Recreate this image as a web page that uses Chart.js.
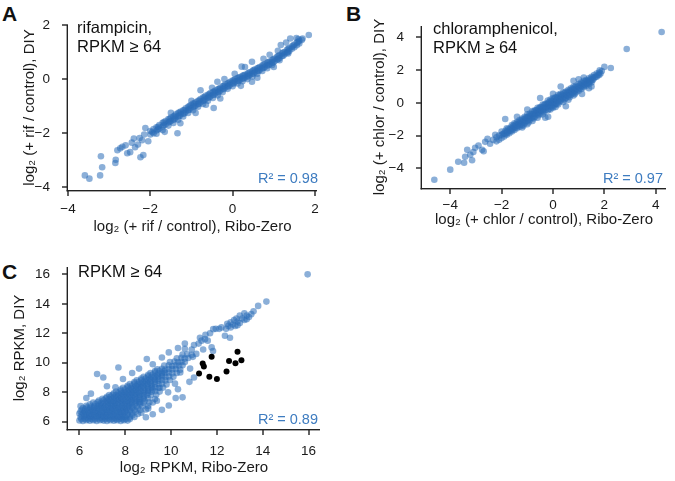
<!DOCTYPE html>
<html>
<head>
<meta charset="utf-8">
<script src="https://cdn.jsdelivr.net/npm/chart.js@4.4.0/dist/chart.umd.min.js"></script>
<style>
  body { margin: 0; background: #fff; width: 675px; height: 481px; position: relative; overflow: hidden;
         font-family: "Liberation Sans", Arial, Helvetica, sans-serif; }
  canvas { position: absolute; }
  .letter { position: absolute; font-weight: bold; font-size: 21px; color: #111; line-height: 1; }
</style>
</head>
<body>
<div class="letter" style="left:2px;top:3px">A</div>
<div class="letter" style="left:346px;top:3px">B</div>
<div class="letter" style="left:2px;top:261px">C</div>
<canvas id="chartA" width="340" height="240" style="left:0;top:0"></canvas>
<canvas id="chartB" width="335" height="240" style="left:340px;top:0"></canvas>
<canvas id="chartC" width="340" height="241" style="left:0;top:240px"></canvas>
<script>
// tick labels
const rifTicks = [-4, -2, 0, 2];
const chlorTicks = [-4, -2, 0, 2, 4];
const rpkmTicks = [6, 8, 10, 12, 14, 16];

// panel A: log2(+rif/control), [Ribo-Zero, DIY]
const rifPoints = [
  [-3.59,-3.56],[-3.48,-3.68],[-3.22,-3.56],[-3.17,-3.26],[-3.2,-2.85],[-2.85,-3.1],[-2.84,-2.98],[-2.73,-2.56],
  [-2.68,-2.5],[-2.56,-2.74],[-2.49,-2.7],[-2.37,-2.52],[-2.24,-2.89],[-2.2,-2.26],[-2.26,-2.18],[-2.12,-1.81],
  [-1.34,-2.0],[-1.27,-1.63],[-0.78,-0.41],[-2.17,-2.81],[-2.8,-2.63],[-2.6,-2.45],[-2.45,-2.35],[-2.3,-2.42],
  [-2.05,-2.3],[-2.4,-2.2],[-2.15,-2.05],
  [-2.0,-2.05],[-2.0,-1.92],[-1.92,-2.0],[-1.92,-1.85],[-1.85,-1.9],[-1.85,-1.78],[-1.85,-2.02],[-1.78,-1.83],
  [-1.78,-1.7],[-1.7,-1.75],[-1.7,-1.62],[-1.7,-1.88],[-1.63,-1.68],[-1.63,-1.55],[-1.56,-1.6],[-1.56,-1.48],
  [-1.56,-1.72],[-1.5,-1.55],[-1.5,-1.42],[-1.44,-1.5],[-1.44,-1.38],[-1.44,-1.62],[-1.38,-1.42],[-1.38,-1.3],
  [-1.32,-1.38],[-1.32,-1.25],[-1.32,-1.5],[-1.26,-1.3],[-1.26,-1.2],[-1.2,-1.28],[-1.2,-1.15],[-1.2,-1.38],
  [-1.14,-1.2],[-1.14,-1.08],[-1.08,-1.15],[-1.08,-1.02],[-1.08,-1.25],[-1.02,-1.08],[-1.02,-0.96],[-0.96,-1.02],
  [-0.96,-0.9],[-0.96,-1.15],[-0.9,-0.98],[-0.9,-0.86],[-0.84,-0.92],[-0.84,-0.8],[-0.84,-1.02],[-0.78,-0.86],
  [-0.78,-0.74],[-0.72,-0.8],[-0.72,-0.68],[-0.72,-0.92],[-0.66,-0.74],[-0.66,-0.62],[-0.6,-0.68],[-0.6,-0.58],
  [-0.6,-0.8],[-0.54,-0.64],[-0.54,-0.52],[-0.48,-0.58],[-0.48,-0.48],[-0.48,-0.7],[-0.42,-0.52],[-0.42,-0.42],
  [-0.36,-0.48],[-0.36,-0.38],[-0.36,-0.6],[-0.3,-0.42],[-0.3,-0.32],[-0.24,-0.36],[-0.24,-0.26],[-0.24,-0.48],
  [-0.18,-0.3],[-0.18,-0.2],[-0.12,-0.26],[-0.12,-0.16],[-0.12,-0.36],[-0.06,-0.2],[-0.06,-0.1],[0,-0.15],
  [0,-0.05],[0,-0.26],[0.06,-0.1],[0.06,0],[0.12,-0.06],[0.12,0.04],[0.12,-0.16],[0.18,-0.02],[0.18,0.08],
  [0.24,0.02],[0.24,0.12],[0.24,-0.08],[0.3,0.06],[0.3,0.16],[0.36,0.1],[0.36,0.2],[0.36,0],[0.42,0.16],
  [0.42,0.25],[0.48,0.2],[0.48,0.3],[0.48,0.1],[0.54,0.26],[0.54,0.35],[0.6,0.3],[0.6,0.4],[0.6,0.2],
  [0.66,0.35],[0.66,0.45],[0.72,0.4],[0.72,0.5],[0.72,0.3],[0.78,0.45],[0.78,0.55],[0.84,0.5],[0.84,0.6],
  [0.84,0.4],[0.9,0.55],[0.9,0.65],[0.96,0.6],[0.96,0.7],[0.96,0.52],[1.02,0.66],[1.02,0.76],[1.08,0.72],
  [1.08,0.82],[1.14,0.78],[1.14,0.88],[1.14,0.7],[1.2,0.85],[1.2,0.95],[1.26,0.92],[1.26,1.0],[1.32,0.98],
  [1.32,1.08],[1.38,1.05],[1.38,1.15],[1.44,1.12],[1.44,1.2],[1.5,1.18],[1.5,1.28],[1.56,1.25],[1.56,1.35],
  [1.62,1.32],[1.62,1.42],[1.68,1.45],[1.85,1.63],
  [-1.95,-1.96],[-1.81,-1.76],[-1.81,-1.86],[-1.67,-1.6],[-1.67,-1.7],[-1.53,-1.48],[-1.53,-1.58],
  [-1.41,-1.36],[-1.41,-1.48],[-1.29,-1.24],[-1.29,-1.36],[-1.17,-1.14],[-1.17,-1.26],[-1.05,-1.01],
  [-1.05,-1.13],[-0.93,-0.9],[-0.93,-1.02],[-0.81,-0.79],[-0.81,-0.91],[-0.69,-0.67],[-0.69,-0.79],
  [-0.57,-0.56],[-0.57,-0.68],[-0.45,-0.46],[-0.45,-0.58],[-0.33,-0.36],[-0.33,-0.48],[-0.21,-0.25],
  [-0.21,-0.37],[-0.09,-0.14],[-0.09,-0.26],[0.03,-0.04],[0.03,-0.16],[0.15,0.06],[0.15,-0.06],[0.27,0.14],
  [0.27,0.02],[0.39,0.23],[0.39,0.11],[0.51,0.33],[0.51,0.21],[0.63,0.42],[0.63,0.3],[0.75,0.53],[0.75,0.41],
  [0.87,0.63],[0.87,0.51],[0.99,0.73],[0.99,0.61],[1.11,0.86],[1.11,0.74],[1.23,0.98],[1.23,0.86],
  [1.35,1.12],[1.35,1.0],[1.47,1.24],[1.59,1.37],
  [1.4,1.5],[1.3,1.35],[1.1,1.05],[0.9,0.9],[0.3,0.45],[-0.2,0.0],[-0.5,-0.32],[-1.0,-0.8],[-0.9,-1.25],
  [0.6,0.05],[1.0,0.45],[-0.3,-0.72],[1.55,1.52],[1.35,0.95],[0.05,0.2],[-0.65,-0.95],[0.75,0.75],
  [-1.5,-1.25],[-1.65,-1.95],[0.2,-0.25],[1.7,1.5],[1.6,1.48],[0.22,0.46],[0.47,0.64],[-0.37,-0.1],
  [1.17,1.26],[0.47,-0.1],[-0.46,-1.07]
];

// panel B: log2(+chlor/control), [Ribo-Zero, DIY]
const chlorPoints = [
  [-4.62,-4.7],[-4.0,-4.08],[-3.69,-3.6],[-3.46,-3.66],[-3.34,-2.87],[-3.42,-3.29],[-3.22,-3.17],[-3.1,-3.0],
  [-3.03,-2.74],[-2.76,-2.87],[-2.64,-2.38],[-2.45,-2.5],[-2.33,-2.26],[-2.25,-1.95],[-1.86,-0.98],[-0.19,-0.85],
  [1.13,0.55],[2.25,2.13],[2.0,2.2],[1.82,2.0],[2.87,3.29],[4.23,4.33],[-2.9,-2.6],[-2.55,-2.2],[-2.7,-2.95],
  [-3.15,-3.5],
  [-2.2,-2.1],[-2.2,-2.35],[-2.1,-2.0],[-2.1,-2.25],[-2.0,-1.75],[-2.0,-1.95],[-2.0,-2.15],[-1.9,-1.85],
  [-1.9,-2.05],[-1.8,-1.55],[-1.8,-1.75],[-1.8,-1.95],[-1.7,-1.65],[-1.7,-1.85],[-1.6,-1.35],[-1.6,-1.55],
  [-1.6,-1.75],[-1.5,-1.25],[-1.5,-1.45],[-1.5,-1.65],[-1.4,-1.15],[-1.4,-1.35],[-1.4,-1.55],[-1.3,-1.05],
  [-1.3,-1.25],[-1.3,-1.45],[-1.2,-0.95],[-1.2,-1.15],[-1.2,-1.35],[-1.2,-1.5],[-1.1,-0.85],[-1.1,-1.05],
  [-1.1,-1.25],[-1.0,-0.7],[-1.0,-0.9],[-1.0,-1.1],[-1.0,-1.3],[-0.9,-0.65],[-0.9,-0.85],[-0.9,-1.05],
  [-0.8,-0.5],[-0.8,-0.7],[-0.8,-0.9],[-0.8,-1.1],[-0.7,-0.45],[-0.7,-0.65],[-0.7,-0.85],[-0.6,-0.3],
  [-0.6,-0.5],[-0.6,-0.7],[-0.6,-0.9],[-0.5,-0.25],[-0.5,-0.45],[-0.5,-0.65],[-0.4,-0.1],[-0.4,-0.3],
  [-0.4,-0.5],[-0.4,-0.7],[-0.3,-0.05],[-0.3,-0.25],[-0.3,-0.45],[-0.2,0.15],[-0.2,-0.05],[-0.2,-0.25],
  [-0.2,-0.45],[-0.1,0.2],[-0.1,0.0],[-0.1,-0.2],[-0.1,-0.4],[0.0,0.3],[0.0,0.1],[0.0,-0.1],[0.0,-0.3],
  [0.1,0.35],[0.1,0.15],[0.1,-0.05],[0.1,-0.25],[0.2,0.5],[0.2,0.3],[0.2,0.1],[0.2,-0.1],[0.3,0.55],
  [0.3,0.35],[0.3,0.15],[0.4,0.65],[0.4,0.45],[0.4,0.25],[0.4,0.05],[0.5,0.7],[0.5,0.5],[0.5,0.3],
  [0.6,0.8],[0.6,0.6],[0.6,0.4],[0.6,0.2],[0.7,0.9],[0.7,0.7],[0.7,0.5],[0.8,1.0],[0.8,0.8],[0.8,0.6],
  [0.8,0.45],[0.9,1.05],[0.9,0.85],[0.9,0.65],[1.0,1.15],[1.0,0.95],[1.0,0.75],[1.1,1.25],[1.1,1.05],
  [1.1,0.85],[1.2,1.35],[1.2,1.15],[1.2,0.95],[1.3,1.4],[1.3,1.2],[1.3,1.05],[1.4,1.5],[1.4,1.3],
  [1.4,1.15],[1.5,1.6],[1.5,1.4],[1.5,1.25],[1.6,1.7],[1.6,1.5],[1.7,1.8],[1.7,1.6],[1.8,1.85],[1.8,1.7],
  [1.9,1.95],
  [-1.95,-1.9],[-1.85,-1.7],[-1.85,-1.9],[-1.75,-1.6],[-1.75,-1.8],[-1.65,-1.5],[-1.65,-1.7],[-1.55,-1.4],
  [-1.55,-1.6],[-1.45,-1.3],[-1.45,-1.5],[-1.35,-1.2],[-1.35,-1.4],[-1.25,-1.1],[-1.25,-1.3],[-1.15,-1.0],
  [-1.15,-1.2],[-1.15,-1.4],[-1.05,-0.9],[-1.05,-1.1],[-0.95,-0.8],[-0.95,-1.0],[-0.95,-1.2],[-0.85,-0.7],
  [-0.85,-0.9],[-0.75,-0.55],[-0.75,-0.75],[-0.75,-0.95],[-0.65,-0.45],[-0.65,-0.65],[-0.55,-0.35],
  [-0.55,-0.55],[-0.55,-0.75],[-0.45,-0.25],[-0.45,-0.45],[-0.35,-0.15],[-0.35,-0.35],[-0.35,-0.55],
  [-0.25,-0.05],[-0.25,-0.25],[-0.15,0.05],[-0.15,-0.15],[-0.15,-0.35],[-0.05,0.15],[-0.05,-0.05],
  [-0.05,-0.25],[0.05,0.25],[0.05,0.05],[0.05,-0.15],[0.15,0.35],[0.15,0.15],[0.15,-0.05],[0.25,0.45],
  [0.25,0.25],[0.25,0.05],[0.35,0.5],[0.35,0.3],[0.45,0.6],[0.45,0.4],[0.45,0.2],[0.55,0.65],[0.55,0.45],
  [0.65,0.75],[0.65,0.55],[0.65,0.35],[0.75,0.85],[0.75,0.65],[0.85,0.95],[0.85,0.75],[0.85,0.55],
  [0.95,1.0],[0.95,0.8],[1.05,1.1],[1.05,0.9],[1.15,1.2],[1.15,1.0],[1.25,1.3],[1.25,1.1],[1.35,1.35],
  [1.35,1.2],[1.45,1.45],[1.45,1.3],[1.55,1.55],[1.55,1.4],[1.65,1.6],[1.75,1.7],[1.85,1.8],
  [0.3,1.0],[0.8,1.35],[1.2,1.55],[-0.5,0.3],[-1.0,-0.4],[0.5,-0.2],[-0.3,-0.9],[1.5,1.0],[-1.4,-0.85],
  [0.0,0.55],[1.0,1.45],[1.4,0.9]
];

// panel C: log2 RPKM, [Ribo-Zero, DIY]
const rpkmPoints = [
  [6.0,6.08],[6.15,6.05],[6.3,6.1],[6.45,6.06],[6.6,6.09],[6.75,6.04],[6.9,6.1],[7.05,6.07],[7.2,6.05],
  [7.35,6.1],[7.5,6.06],[7.65,6.09],[7.8,6.05],[7.95,6.1],[8.1,6.07],
  [6.08,6.18],[6.23,6.2],[6.38,6.16],[6.53,6.19],[6.68,6.17],[6.83,6.21],[6.98,6.16],[7.13,6.19],[7.28,6.18],
  [7.43,6.2],[7.58,6.16],[7.73,6.19],[7.88,6.17],[8.03,6.2],[8.2,6.18],
  [6.05,6.3],[6.2,6.35],[6.35,6.28],[6.5,6.33],[6.65,6.3],[6.8,6.36],[6.95,6.29],[7.1,6.32],[7.25,6.3],
  [7.4,6.35],[7.55,6.28],[7.7,6.33],[7.85,6.3],[8.0,6.34],[8.2,6.29],[8.4,6.32],
  [6.1,6.43],[6.27,6.45],[6.42,6.41],[6.57,6.44],[6.72,6.42],[6.87,6.46],[7.02,6.41],[7.17,6.44],[7.32,6.43],
  [7.47,6.45],[7.62,6.41],[7.77,6.44],[7.92,6.42],[8.1,6.45],[8.3,6.42],
  [6.0,6.55],[6.15,6.58],[6.3,6.52],[6.45,6.56],[6.6,6.54],[6.75,6.59],[6.9,6.53],[7.05,6.56],[7.2,6.55],
  [7.35,6.58],[7.5,6.52],[7.65,6.56],[7.8,6.54],[7.95,6.58],[8.1,6.53],[8.3,6.56],[8.55,6.52],
  [6.05,6.68],[6.22,6.7],[6.37,6.66],[6.52,6.69],[6.67,6.67],[6.82,6.71],[6.97,6.66],[7.12,6.69],[7.27,6.68],
  [7.42,6.7],[7.57,6.66],[7.72,6.69],[7.87,6.67],[8.02,6.7],[8.2,6.67],[8.45,6.69],
  [6.1,6.8],[6.25,6.83],[6.4,6.78],[6.55,6.82],[6.7,6.8],[6.85,6.84],[7.0,6.78],[7.15,6.81],[7.3,6.8],
  [7.45,6.84],[7.6,6.78],[7.75,6.82],[7.9,6.8],[8.05,6.83],[8.2,6.78],[8.4,6.81],[8.65,6.79],[8.9,6.83],
  [6.15,6.93],[6.32,6.95],[6.47,6.91],[6.62,6.94],[6.77,6.92],[6.92,6.96],[7.07,6.91],[7.22,6.94],[7.37,6.93],
  [7.52,6.95],[7.67,6.91],[7.82,6.94],[7.97,6.92],[8.12,6.95],[8.3,6.92],[8.55,6.94],
  [6.05,7.05],[6.3,7.08],[6.5,7.02],[6.65,7.06],[6.8,7.04],[6.95,7.08],[7.1,7.02],[7.25,7.06],[7.4,7.05],
  [7.55,7.08],[7.7,7.02],[7.85,7.06],[8.0,7.04],[8.15,7.08],[8.3,7.03],[8.5,7.06],[8.75,7.02],[9.0,7.07],
  [6.45,7.18],[6.7,7.2],[6.87,7.16],[7.02,7.19],[7.17,7.17],[7.32,7.21],[7.47,7.16],[7.62,7.19],[7.77,7.18],
  [7.92,7.2],[8.07,7.16],[8.22,7.19],[8.4,7.17],[8.65,7.2],
  [6.6,7.3],[6.8,7.33],[6.95,7.28],[7.1,7.32],[7.25,7.3],[7.4,7.34],[7.55,7.28],[7.7,7.32],[7.85,7.3],
  [8.0,7.33],[8.15,7.28],[8.3,7.32],[8.45,7.3],[8.6,7.33],[8.8,7.28],[9.05,7.31],[9.2,7.3],
  [6.85,7.43],[7.05,7.45],[7.22,7.41],[7.37,7.44],[7.52,7.42],[7.67,7.46],[7.82,7.41],[7.97,7.44],[8.12,7.43],
  [8.27,7.45],[8.42,7.41],[8.6,7.44],[8.85,7.42],
  [7.0,7.55],[7.15,7.58],[7.3,7.53],[7.45,7.57],[7.6,7.55],[7.75,7.59],[7.9,7.53],[8.05,7.56],[8.2,7.55],
  [8.35,7.58],[8.5,7.52],[8.65,7.56],[8.8,7.55],[9.0,7.58],[9.3,7.54],
  [7.2,7.68],[7.37,7.7],[7.52,7.66],[7.67,7.69],[7.82,7.67],[7.97,7.71],[8.12,7.66],[8.27,7.69],[8.42,7.68],
  [8.6,7.7],[8.8,7.66],
  [7.3,7.8],[7.45,7.83],[7.6,7.78],[7.75,7.82],[7.9,7.8],[8.05,7.84],[8.2,7.78],[8.35,7.82],[8.5,7.8],
  [8.65,7.83],[8.8,7.78],[8.95,7.82],[9.1,7.8],[9.35,7.83],
  [7.5,7.93],[7.7,7.95],[7.85,7.91],[8.0,7.94],[8.15,7.92],[8.3,7.96],[8.45,7.91],[8.6,7.94],[8.8,7.93],
  [9.0,7.95],
  [7.6,8.05],[7.8,8.08],[7.95,8.03],[8.1,8.07],[8.25,8.05],[8.4,8.08],[8.55,8.02],[8.7,8.06],[8.85,8.05],
  [9.0,8.08],[9.15,8.03],[9.3,8.06],[9.5,8.04],
  [7.8,8.18],[8.0,8.2],[8.17,8.16],[8.32,8.19],[8.47,8.17],[8.62,8.21],[8.8,8.16],[9.0,8.19],[9.2,8.18],
  [7.9,8.3],[8.1,8.33],[8.25,8.28],[8.4,8.32],[8.55,8.3],[8.7,8.34],[8.85,8.28],[9.0,8.32],[9.15,8.3],
  [9.3,8.33],[9.45,8.28],[9.65,8.31],
  [8.1,8.43],[8.3,8.45],[8.47,8.41],[8.62,8.44],[8.77,8.42],[8.95,8.46],[9.15,8.41],
  [8.2,8.55],[8.4,8.58],[8.55,8.53],[8.7,8.57],[8.85,8.55],[9.0,8.58],[9.15,8.52],[9.3,8.56],[9.45,8.55],
  [9.6,8.58],[9.8,8.53],
  [8.4,8.68],[8.6,8.7],[8.77,8.66],[8.92,8.69],[9.1,8.67],[9.3,8.71],
  [8.5,8.8],[8.7,8.83],[8.85,8.78],[9.0,8.82],[9.15,8.8],[9.3,8.84],[9.45,8.78],[9.6,8.82],[9.75,8.8],
  [9.95,8.83],
  [8.7,8.93],[8.9,8.95],[9.07,8.91],[9.25,8.94],[9.45,8.92],
  [8.8,9.05],[9.0,9.08],[9.15,9.03],[9.3,9.07],[9.45,9.05],[9.6,9.08],[9.75,9.02],[9.9,9.06],[10.1,9.04],
  [9.0,9.18],[9.2,9.2],[9.4,9.16],[9.6,9.19],
  [9.1,9.3],[9.3,9.33],[9.45,9.28],[9.6,9.32],[9.75,9.3],[9.9,9.34],[10.05,9.28],[10.25,9.31],
  [9.3,9.43],[9.5,9.45],[9.7,9.41],
  [9.4,9.55],[9.6,9.58],[9.75,9.53],[9.9,9.57],[10.05,9.55],[10.2,9.58],[10.4,9.53],
  [9.7,9.8],[9.9,9.83],[10.05,9.78],[10.2,9.82],[10.35,9.8],[10.5,9.83],
  [9.95,10.05],[10.15,10.08],[10.3,10.03],[10.45,10.07],[10.6,10.05],
  [10.25,10.3],[10.45,10.33],[10.6,10.28],[10.75,10.32],
  [10.5,10.55],[10.7,10.58],[10.9,10.53],
  [6.77,9.23],[7.7,9.68],[8.94,10.25],[9.6,10.36],[7.57,8.33],[7.04,9.0],[6.3,7.6],[6.5,7.9],[7.2,8.4],
  [7.9,8.9],[8.3,9.3],[8.6,9.6],[9.2,9.9],[9.9,10.7],[10.3,11.0],[10.6,11.3],
  [8.65,7.31],[9.38,7.42],[9.87,7.99],[10.5,7.65],[10.17,8.58],[10.4,9.34],[10.6,10.95],[10.83,9.6],
  [9.2,6.5],[9.6,6.8],[8.9,6.3],[9.9,7.1],[10.2,7.6],[10.8,8.7],[11.0,9.0],[10.3,8.2],[9.5,8.3],[8.7,6.6],
  [9.0,6.9],
  [10.9,10.9],[11.0,11.2],[11.2,11.3],[11.33,11.5],[11.48,11.6],[11.6,11.5],[11.77,11.04],[11.83,10.8],
  [11.26,11.7],[11.1,10.6],[10.95,10.4],[11.4,10.9],[11.84,12.28],[11.95,12.3],[12.1,12.3],[11.7,12.0],
  [12.35,11.83],[12.57,11.7],[11.5,11.9],
  [12.4,12.3],[12.5,12.5],[12.6,12.4],[12.7,12.6],[12.8,12.5],[12.9,12.8],[12.75,12.9],[13.0,12.7],
  [13.1,13.0],[13.2,12.9],[13.3,13.2],[13.4,13.1],[13.0,13.2],[12.6,12.75],[12.9,12.55],[13.2,13.35],
  [13.5,13.3],[12.45,12.65],[12.85,13.0],[13.3,12.95],[12.2,12.4],
  [13.8,13.86],[14.16,14.15],[15.96,16.0],[13.6,13.5]
];

// highlighted genes (black)
const rpkmHighlight = [
  [11.77,10.4],[11.38,9.95],[11.43,9.75],[11.22,9.27],[11.67,9.05],[12.0,8.89],
  [12.42,9.41],[12.53,10.11],[12.81,9.97],[12.9,10.75],[13.07,10.16]
];

const FONT = '"Liberation Sans", Arial, Helvetica, sans-serif';
const BLUE = 'rgba(44, 110, 184, 0.55)';
const INK = '#222';
Chart.defaults.font.family = FONT;
Chart.defaults.color = '#1a1a1a';

// left/bottom spines with outward tick marks (filled rects)
const spinePlugin = {
  id: 'spines',
  beforeDatasetsDraw(chart) {
    const { ctx, chartArea: a, scales: { x, y } } = chart;
    const L = Math.round(a.left);
    const B = Math.round(a.bottom);
    const w = 1.4;
    ctx.save();
    ctx.fillStyle = INK;
    ctx.fillRect(L - w, a.top, w, B - a.top + w);
    ctx.fillRect(L - w, B, a.right - L + w, w);
    x.ticks.forEach(t => {
      const px = Math.round(x.getPixelForValue(t.value));
      ctx.fillRect(px - w / 2, B, w, 6);
    });
    y.ticks.forEach(t => {
      const py = Math.round(y.getPixelForValue(t.value));
      ctx.fillRect(L - 6, py - w / 2, 6, w);
    });
    ctx.restore();
  }
};

const notePlugin = {
  id: 'notes',
  afterDatasetsDraw(chart, args, opts) {
    const { ctx, chartArea } = chart;
    ctx.save();
    ctx.textBaseline = 'alphabetic';
    ctx.font = '16.5px ' + FONT;
    ctx.fillStyle = '#111';
    ctx.textAlign = 'left';
    opts.lines.forEach((t, i) => ctx.fillText(t, chartArea.left + opts.dx, chartArea.top + opts.dy + i * 19));
    ctx.font = '14.5px ' + FONT;
    ctx.fillStyle = '#3e7cc0';
    ctx.textAlign = 'right';
    ctx.fillText(opts.r2, chartArea.right + opts.rx, chartArea.bottom + opts.ry);
    ctx.restore();
  }
};

const minus = v => String(v).replace('-', '\u2212');

function axis(cfg) {
  return {
    type: 'linear',
    min: cfg.min,
    max: cfg.max,
    afterBuildTicks: s => { s.ticks = cfg.ticks.map(v => ({ value: v })); },
    afterFit: s => { if (cfg.width) s.width = cfg.width; if (cfg.height) s.height = cfg.height; },
    grid: { display: false },
    border: { display: false },
    ticks: { font: { size: 13.5 }, color: '#1a1a1a', padding: cfg.tickPad, autoSkip: false, maxRotation: 0, callback: minus },
    title: { display: true, text: cfg.title, font: { size: 15 }, color: '#1a1a1a', padding: cfg.titlePad }
  };
}

function makeChart(id, datasets, box, xa, ya, notes) {
  new Chart(document.getElementById(id), {
    type: 'scatter',
    data: { datasets },
    options: {
      responsive: false,
      animation: false,
      devicePixelRatio: 1,
      layout: { padding: { left: 0, top: box.top, right: box.right, bottom: 0 } },
      plugins: { legend: { display: false }, tooltip: { enabled: false }, notes },
      scales: { x: axis(xa), y: axis(ya) }
    },
    plugins: [spinePlugin, notePlugin]
  });
}

const pts = arr => arr.map(([x, y]) => ({ x, y }));
const blueSet = arr => ({ data: pts(arr), backgroundColor: BLUE, borderWidth: 0, pointRadius: 3.3 });

makeChart('chartA', [blueSet(rifPoints)], { top: 25, right: 23 },
  { min: -4, max: 2.05, ticks: rifTicks, height: 50, tickPad: 3, title: 'log\u2082 (+ rif / control), Ribo-Zero', titlePad: { bottom: 4 } },
  { min: -4.1, max: 2, ticks: rifTicks, width: 68, tickPad: 10, title: 'log\u2082 (+ rif / control), DIY', titlePad: { top: 21 } },
  { lines: ['rifampicin,', 'RPKM \u2265 64'], dx: 9, dy: 8, r2: 'R\u00b2 = 0.98', rx: 1, ry: -7.5 });

makeChart('chartB', [blueSet(chlorPoints)], { top: 26, right: 9 },
  { min: -5.1, max: 4.4, ticks: chlorTicks, height: 52, tickPad: 1, title: 'log\u2082 (+ chlor / control), Ribo-Zero', titlePad: { bottom: 11 } },
  { min: -5.2, max: 4.7, ticks: chlorTicks, width: 82, tickPad: 10, title: 'log\u2082 (+ chlor / control), DIY', titlePad: { top: 31 } },
  { lines: ['chloramphenicol,', 'RPKM \u2265 64'], dx: 11, dy: 7.5, r2: 'R\u00b2 = 0.97', rx: -3, ry: -5 });

makeChart('chartC', [
    { data: pts(rpkmHighlight), backgroundColor: '#000', borderWidth: 0, pointRadius: 3 },
    blueSet(rpkmPoints)
  ], { top: 27, right: 20 },
  { min: 5.5, max: 16.5, ticks: rpkmTicks, height: 52, tickPad: 6, title: 'log\u2082 RPKM, Ribo-Zero', titlePad: { bottom: 4 } },
  { min: 5.5, max: 16.5, ticks: rpkmTicks, width: 68, tickPad: 10, title: 'log\u2082 RPKM, DIY', titlePad: { top: 11 } },
  { lines: ['RPKM \u2265 64'], dx: 10, dy: 10, r2: 'R\u00b2 = 0.89', rx: -2, ry: -5 });
</script>
</body>
</html>
